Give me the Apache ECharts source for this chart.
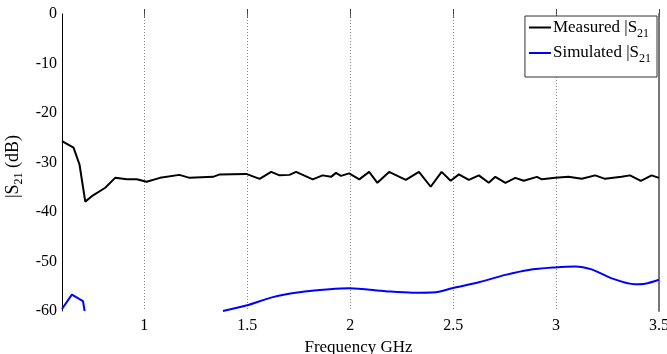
<!DOCTYPE html>
<html>
<head>
<meta charset="utf-8">
<script src="https://cdn.jsdelivr.net/npm/echarts@6/dist/echarts.min.js"></script>
<style>
  html, body { margin: 0; padding: 0; background: #fff; }
  #chart { width: 667px; height: 354px; }
</style>
</head>
<body>
<div id="chart"></div>
<script>
// Measured |S21| (dB) versus frequency (GHz)
const measuredFreq = [0.6, 0.656, 0.685, 0.713, 0.745, 0.81, 0.858, 0.915, 0.963, 1.011, 1.076, 1.17, 1.22, 1.334, 1.366, 1.495,
  1.56, 1.616, 1.657, 1.705, 1.737, 1.818, 1.866, 1.907, 1.931, 1.955, 1.995, 2.044, 2.092, 2.132, 2.189, 2.27, 2.334, 2.391,
  2.444, 2.488, 2.528, 2.576, 2.625, 2.673, 2.705, 2.754, 2.802, 2.843, 2.907, 2.931, 2.996, 3.06, 3.125, 3.19, 3.238, 3.318,
  3.359, 3.412, 3.464, 3.5];
const measuredDb = [-25.7, -27.0, -30.4, -37.9, -36.8, -35.1, -33.1, -33.4, -33.4, -33.9, -33.1, -32.5, -33.1, -32.9, -32.4, -32.3,
  -33.3, -31.9, -32.6, -32.5, -31.9, -33.4, -32.6, -32.9, -32.1, -32.7, -32.2, -33.4, -31.9, -34.1, -31.9, -33.5, -31.9, -34.9,
  -31.9, -33.7, -32.4, -33.5, -32.6, -34.1, -32.9, -34.1, -33.1, -33.7, -32.9, -33.4, -33.1, -32.9, -33.3, -32.6, -33.3, -32.9,
  -32.6, -33.7, -32.6, -33.1];

// Simulated |S21|: two visible pieces above the -60 dB floor
const simLowFreq = [0.6, 0.648, 0.702, 0.71];
const simLowDb = [-59.6, -56.7, -58.0, -60.0];
const simHighFreq = [1.382, 1.495, 1.624, 1.753, 1.9, 1.995, 2.173, 2.302, 2.415, 2.495, 2.625, 2.754, 2.867, 2.993, 3.093,
  3.173, 3.27, 3.383, 3.432, 3.5];
const simHighDb = [-60.0, -58.9, -57.2, -56.2, -55.6, -55.4, -56.0, -56.3, -56.2, -55.4, -54.2, -52.7, -51.7, -51.2, -51.0,
  -51.6, -53.4, -54.6, -54.5, -53.7];

const xTicks = [1, 1.5, 2, 2.5, 3, 3.5];
const yMin = -60, yMax = 0, yStep = 10;

const pair = (xs, ys) => xs.map((x, i) => [x, ys[i]]);
const serif = 'Liberation Serif';
const subStyle = size => ({ fontFamily: serif, fontSize: size, color: '#000', verticalAlign: 'bottom', padding: [size, 0, 0, 0] });

const chart = echarts.init(document.getElementById('chart'));
chart.setOption({
  animation: false,
  backgroundColor: '#fff',
  grid: { left: 62, right: 8, top: 14, bottom: 43, outerBoundsMode: 'none', containLabel: false },
  legend: {
    right: 10, top: 16, orient: 'vertical',
    data: ['Measured', 'Simulated'],
    backgroundColor: '#fff',
    borderColor: '#333', borderWidth: 1,
    padding: [3, 6, 12, 4],
    itemGap: 5,
    itemWidth: 22, itemHeight: 2,
    icon: 'rect',
    textStyle: {
      fontFamily: serif, fontSize: 17, color: '#000', padding: [0, 0, 0, -3],
      rich: {
        t: { fontFamily: serif, fontSize: 17, color: '#000' },
        s: subStyle(12)
      }
    },
    formatter: n => '{t|' + n + ' |S}{s|21}'
  },
  xAxis: [{
    type: 'value', min: 0.6, max: 3.5,
    name: 'Frequency GHz', nameLocation: 'middle', nameGap: 22,
    nameTextStyle: { fontFamily: serif, fontSize: 17, color: '#000', padding: [0, 0, 0, -4] },
    axisLine: { show: false },
    axisTick: { show: true, inside: true, length: 5, customValues: xTicks, lineStyle: { color: '#444', width: 1 } },
    axisLabel: { customValues: xTicks, fontFamily: serif, fontSize: 16, color: '#000', margin: 7 },
    splitLine: { show: true, lineStyle: { type: [1, 2], color: '#888', width: 1 } }
  }, {
    type: 'value', min: 0.6, max: 3.5, position: 'top',
    axisLine: { show: false },
    axisTick: { show: true, inside: true, length: 4, customValues: xTicks, lineStyle: { color: '#666', width: 1 } },
    axisLabel: { show: false },
    splitLine: { show: false }
  }],
  yAxis: [{
    type: 'value', min: yMin, max: yMax, interval: yStep,
    name: '|S{s|21} (dB)', nameLocation: 'middle', nameGap: 36, nameRotate: 90,
    nameTextStyle: {
      fontFamily: serif, fontSize: 18, color: '#000', padding: [0, 0, 0, -8],
      rich: { s: subStyle(12) }
    },
    axisLine: { show: true, lineStyle: { color: '#000', width: 1 } },
    axisTick: { show: false },
    axisLabel: { fontFamily: serif, fontSize: 16, color: '#000', margin: 5 },
    splitLine: { show: false }
  }, {
    type: 'value', min: yMin, max: yMax, interval: yStep, position: 'right',
    axisLine: { show: true, lineStyle: { color: '#777', width: 2 } },
    axisTick: { show: false }, axisLabel: { show: false }, splitLine: { show: false }
  }],
  series: [{
    name: 'Measured', type: 'line', data: pair(measuredFreq, measuredDb),
    showSymbol: false, symbol: 'none', lineStyle: { color: '#000', width: 2 }, itemStyle: { color: '#000' }
  }, {
    name: 'Simulated', type: 'line', data: pair(simLowFreq, simLowDb),
    showSymbol: false, symbol: 'none', lineStyle: { color: '#0000ff', width: 2 }, itemStyle: { color: '#0000ff' }
  }, {
    name: 'Simulated', type: 'line', data: pair(simHighFreq, simHighDb), smooth: 0.3,
    showSymbol: false, symbol: 'none', lineStyle: { color: '#0000ff', width: 2 }, itemStyle: { color: '#0000ff' }
  }]
});
</script>
</body>
</html>
